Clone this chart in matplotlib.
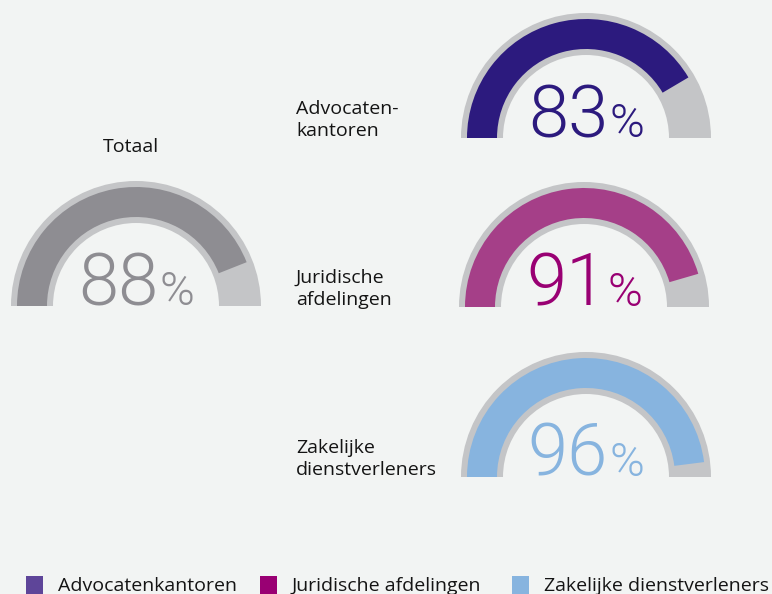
import matplotlib
matplotlib.use("Agg")
import matplotlib.pyplot as plt
from matplotlib.patches import Wedge, Rectangle

# ---- data ----
categories = ["Totaal", "Advocatenkantoren", "Juridische afdelingen", "Zakelijke dienstverleners"]
values = [88, 83, 91, 96]
gauge_labels = [["Totaal"], ["Advocaten-", "kantoren"], ["Juridische", "afdelingen"], ["Zakelijke", "dienstverleners"]]
legend_labels = ["Advocatenkantoren", "Juridische afdelingen", "Zakelijke dienstverleners"]

# ---- style ----
bg = "#f2f4f3"
ring_col = "#c4c5c7"
arc_cols = ["#8e8d92", "#2c1a7e", "#a53f88", "#87b4df"]
num_cols = ["#8e8d92", "#2c1a7e", "#990073", "#87b4df"]
legend_cols = ["#5e4599", "#990073", "#87b4df"]
centers = [(136, 306), (586, 138), (584, 307), (586, 477)]
R_OUT, R_IN = 125, 83
A_OUT, A_IN = 119, 89

W, H = 772, 594
fig = plt.figure(figsize=(W / 100, H / 100), dpi=100, facecolor=bg)
ax = fig.add_axes([0, 0, 1, 1])
ax.set_xlim(0, W)
ax.set_ylim(H, 0)
ax.set_aspect("equal")
ax.axis("off")
ax.set_facecolor(bg)

FONT = "Roboto"
LABEL_FONT = "Open Sans"
TXT = "#141414"

for i, (cat, v) in enumerate(zip(categories, values)):
    cx, cy = centers[i]
    ax.add_patch(Wedge((cx, cy), R_OUT, 180, 360, width=R_OUT - R_IN, facecolor=ring_col, edgecolor="none"))
    end = 180 + 180 * v / 100.0
    ax.add_patch(Wedge((cx, cy), A_OUT, 180, end, width=A_OUT - A_IN, facecolor=arc_cols[i], edgecolor="none"))
    ax.text(cx + 22, cy - 1, f"{v}", ha="right", va="baseline", fontsize=52,
            family=FONT, fontweight=300, color=num_cols[i])
    ax.text(cx + 23, cy - 1, "%", ha="left", va="baseline", fontsize=34,
            family=FONT, fontweight=300, color=num_cols[i])

# labels
ax.text(131, 152, gauge_labels[0][0], ha="center", va="baseline", fontsize=14, family=LABEL_FONT, color=TXT)
for i in range(1, 4):
    cx, cy = centers[i]
    l1, l2 = gauge_labels[i]
    ax.text(296, cy - 24, l1, ha="left", va="baseline", fontsize=14, family=LABEL_FONT, color=TXT)
    ax.text(296, cy - 2, l2, ha="left", va="baseline", fontsize=14, family=LABEL_FONT, color=TXT)

# legend
leg_x = [26, 260, 512]
for x, lab, c in zip(leg_x, legend_labels, legend_cols):
    ax.add_patch(Rectangle((x, 576), 17, 20, facecolor=c, edgecolor="none"))
    ax.text(x + 32, 591, lab, ha="left", va="baseline", fontsize=14, family=LABEL_FONT, color=TXT)

fig.savefig("out.png", dpi=100, facecolor=bg)
